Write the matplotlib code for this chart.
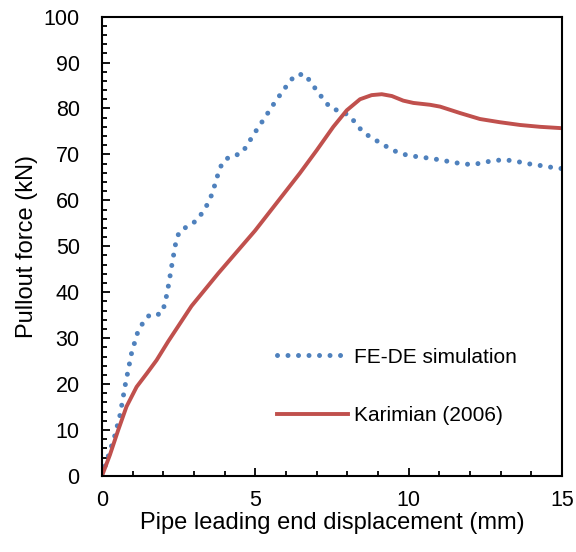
import matplotlib
matplotlib.use("Agg")
import matplotlib.pyplot as plt
from matplotlib.ticker import MultipleLocator

plt.rcParams["font.family"] = ["Liberation Sans", "DejaVu Sans"]

# FE-DE simulation (dotted blue)
fe_x = [0.0, 0.21, 0.42, 0.59, 0.77, 0.97, 1.17, 1.35, 1.57, 1.91, 2.05, 2.18, 2.29,
        2.41, 2.52, 2.80, 3.09, 3.29, 3.47, 3.60, 3.80, 3.93, 4.18, 4.52, 4.72, 4.90,
        5.28, 5.66, 6.07, 6.29, 6.60, 6.81, 7.01, 7.23, 7.45, 7.76, 8.06, 8.28, 8.50,
        8.79, 9.10, 9.40, 9.72, 10.05, 10.40, 10.75, 11.10, 11.43, 11.78, 12.12, 12.47,
        12.82, 13.16, 13.50, 13.85, 14.18, 14.53, 14.88, 15.0]
fe_y = [0.0, 4.4, 8.8, 13.3, 20.2, 26.9, 31.4, 33.5, 35.2, 35.2, 37.3, 41.9, 46.4,
        50.9, 53.2, 54.4, 55.6, 57.5, 59.5, 61.6, 66.1, 68.3, 69.6, 70.1, 71.8, 73.9,
        77.7, 81.6, 85.4, 87.2, 87.5, 85.7, 83.8, 81.9, 80.1, 79.4, 78.5, 76.7, 74.9,
        73.6, 72.4, 71.2, 70.2, 69.7, 69.4, 69.1, 68.7, 68.3, 67.9, 67.8, 68.3,
        68.7, 68.8, 68.5, 68.0, 67.7, 67.3, 67.0, 66.9]

# Karimian (2006) (solid red)
ka_x = [0.0, 0.26, 0.53, 0.80, 1.13, 1.46, 1.78, 2.16, 2.92, 3.79, 4.99, 6.45, 7.0,
        7.54, 7.98, 8.41, 8.79, 9.12, 9.45, 9.82, 10.15, 10.69, 11.02, 11.67, 12.32,
        12.97, 13.63, 14.28, 15.0]
ka_y = [0.0, 4.6, 10.0, 15.1, 19.4, 22.3, 25.2, 29.3, 37.0, 44.1, 53.4, 65.9, 70.9,
        76.0, 79.6, 82.0, 82.9, 83.1, 82.7, 81.7, 81.2, 80.8, 80.4, 79.0, 77.7,
        77.0, 76.4, 76.0, 75.7]

fig = plt.figure(figsize=(5.76, 5.52), dpi=100)
ax = fig.add_axes([0.177, 0.1377, 0.799, 0.8323])

ax.plot(fe_x, fe_y, color="#4F81BD", linewidth=3.6, linestyle=(0, (0.001, 2.1)),
        dash_capstyle="round", label="FE-DE simulation")
ax.plot(ka_x, ka_y, color="#C0504D", linewidth=2.8, solid_joinstyle="round",
        label="Karimian (2006)")

ax.set_xlim(0, 15)
ax.set_ylim(0, 100)
ax.xaxis.set_major_locator(MultipleLocator(5))
ax.xaxis.set_minor_locator(MultipleLocator(1))
ax.yaxis.set_major_locator(MultipleLocator(10))
ax.yaxis.set_minor_locator(MultipleLocator(2))
ax.tick_params(which="both", direction="in", width=1.3, labelsize=15.5)
ax.tick_params(which="major", length=6)
ax.tick_params(which="minor", length=3.5)
ax.tick_params(axis="x", which="major", pad=10)
ax.tick_params(axis="y", which="major", pad=16)
for s in ax.spines.values():
    s.set_linewidth(1.5)

ax.set_xlabel("Pipe leading end displacement (mm)", fontsize=17, labelpad=1)
ax.set_ylabel("Pullout force (kN)", fontsize=17, labelpad=4)

ax.legend(loc="center left", bbox_to_anchor=(0.38, 0.195), frameon=False,
          fontsize=15, borderpad=0, borderaxespad=0, handlelength=3.4,
          handletextpad=0.3, labelspacing=1.9)

fig.savefig("out.png", dpi=100)
